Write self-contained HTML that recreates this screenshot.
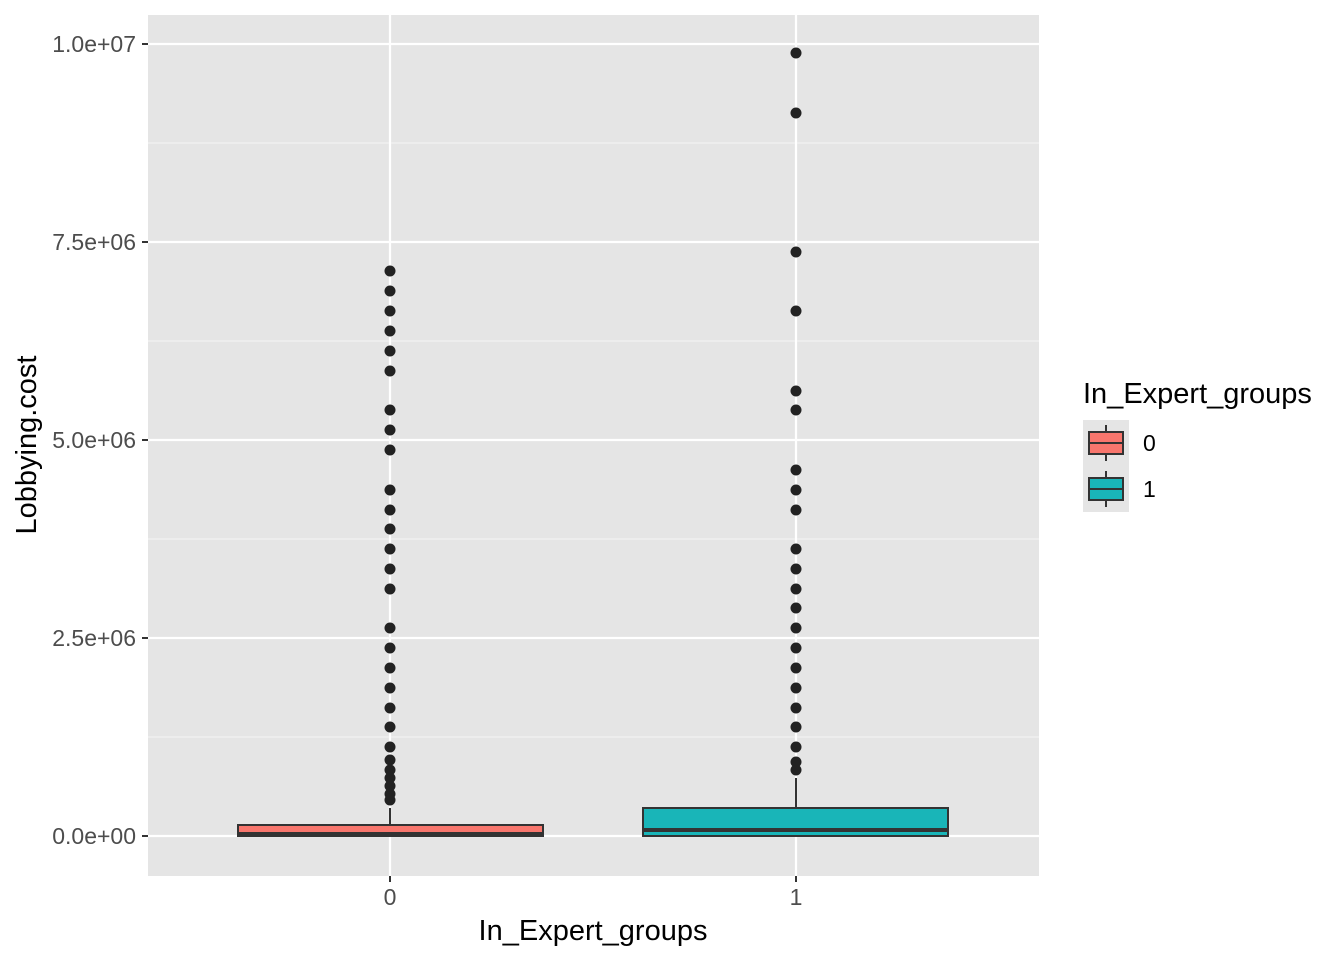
<!DOCTYPE html>
<html><head><style>body{margin:0;background:#fff}svg text{font-family:"Liberation Sans",sans-serif}</style></head><body>
<svg width="1344" height="960" xmlns="http://www.w3.org/2000/svg">
<rect x="148" y="15" width="891" height="861" fill="#e5e5e5"/>
<g stroke="#f2f2f2" stroke-width="1.2">
<line x1="148" x2="1039" y1="737" y2="737"/><line x1="148" x2="1039" y1="539" y2="539"/><line x1="148" x2="1039" y1="341" y2="341"/><line x1="148" x2="1039" y1="143" y2="143"/>
</g>
<g stroke="#fff" stroke-width="2.2">
<line x1="148" x2="1039" y1="836" y2="836"/><line x1="148" x2="1039" y1="638" y2="638"/><line x1="148" x2="1039" y1="440" y2="440"/><line x1="148" x2="1039" y1="242" y2="242"/><line x1="148" x2="1039" y1="44" y2="44"/>
<line x1="390" x2="390" y1="15" y2="876"/><line x1="796" x2="796" y1="15" y2="876"/>
</g>
<g fill="#222">
<circle cx="390" cy="271" r="5.5"/><circle cx="390" cy="291" r="5.5"/><circle cx="390" cy="311" r="5.5"/><circle cx="390" cy="331" r="5.5"/><circle cx="390" cy="351" r="5.5"/><circle cx="390" cy="371" r="5.5"/><circle cx="390" cy="410" r="5.5"/><circle cx="390" cy="430" r="5.5"/><circle cx="390" cy="450" r="5.5"/><circle cx="390" cy="490" r="5.5"/><circle cx="390" cy="510" r="5.5"/><circle cx="390" cy="529" r="5.5"/><circle cx="390" cy="549" r="5.5"/><circle cx="390" cy="569" r="5.5"/><circle cx="390" cy="589" r="5.5"/><circle cx="390" cy="628" r="5.5"/><circle cx="390" cy="648" r="5.5"/><circle cx="390" cy="668" r="5.5"/><circle cx="390" cy="688" r="5.5"/><circle cx="390" cy="708" r="5.5"/><circle cx="390" cy="727" r="5.5"/><circle cx="390" cy="747" r="5.5"/><circle cx="390" cy="760" r="5.5"/><circle cx="390" cy="770" r="5.5"/><circle cx="390" cy="778" r="5.5"/><circle cx="390" cy="786" r="5.5"/><circle cx="390" cy="794" r="5.5"/><circle cx="390" cy="800" r="5.5"/>
<circle cx="796" cy="53" r="5.5"/><circle cx="796" cy="113" r="5.5"/><circle cx="796" cy="252" r="5.5"/><circle cx="796" cy="311" r="5.5"/><circle cx="796" cy="391" r="5.5"/><circle cx="796" cy="410" r="5.5"/><circle cx="796" cy="470" r="5.5"/><circle cx="796" cy="490" r="5.5"/><circle cx="796" cy="510" r="5.5"/><circle cx="796" cy="549" r="5.5"/><circle cx="796" cy="569" r="5.5"/><circle cx="796" cy="589" r="5.5"/><circle cx="796" cy="608" r="5.5"/><circle cx="796" cy="628" r="5.5"/><circle cx="796" cy="648" r="5.5"/><circle cx="796" cy="668" r="5.5"/><circle cx="796" cy="688" r="5.5"/><circle cx="796" cy="708" r="5.5"/><circle cx="796" cy="727" r="5.5"/><circle cx="796" cy="747" r="5.5"/><circle cx="796" cy="762" r="5.5"/><circle cx="796" cy="770" r="5.5"/>
</g>
<g stroke="#333" stroke-width="2">
<line x1="390" x2="390" y1="808" y2="825"/>
<rect x="238" y="825" width="305" height="11" fill="#f8766d"/>
<line x1="238" x2="543" y1="834" y2="834" stroke-width="4"/>
<line x1="796" x2="796" y1="778" y2="808"/>
<rect x="643" y="808" width="305" height="28" fill="#19b5b8"/>
<line x1="643" x2="948" y1="830" y2="830" stroke-width="4"/>
</g>
<g stroke="#333" stroke-width="2"><line x1="142" x2="148" y1="836" y2="836"/><line x1="142" x2="148" y1="638" y2="638"/><line x1="142" x2="148" y1="440" y2="440"/><line x1="142" x2="148" y1="242" y2="242"/><line x1="142" x2="148" y1="44" y2="44"/><line x1="390" x2="390" y1="876" y2="882"/><line x1="796" x2="796" y1="876" y2="882"/></g>
<g fill="#4d4d4d" font-size="23" text-anchor="end">
<text x="136" y="844">0.0e+00</text><text x="136" y="646">2.5e+06</text><text x="136" y="448">5.0e+06</text><text x="136" y="250">7.5e+06</text><text x="136" y="52">1.0e+07</text>
</g>
<g fill="#4d4d4d" font-size="23" text-anchor="middle"><text x="390" y="905">0</text><text x="796" y="905">1</text></g>
<text x="593" y="940" font-size="29" text-anchor="middle">In_Expert_groups</text>
<text transform="translate(36,445) rotate(-90)" font-size="29" text-anchor="middle">Lobbying.cost</text>
<text x="1083" y="403" font-size="29">In_Expert_groups</text>
<rect x="1083" y="420" width="46" height="92" fill="#e5e5e5"/>
<g stroke="#333" stroke-width="2">
<line x1="1106" x2="1106" y1="425" y2="461"/><rect x="1089" y="432" width="34" height="22" fill="#f8766d"/><line x1="1089" x2="1123" y1="443" y2="443"/>
<line x1="1106" x2="1106" y1="471" y2="507"/><rect x="1089" y="478" width="34" height="22" fill="#19b5b8"/><line x1="1089" x2="1123" y1="489" y2="489"/>
</g>
<text x="1143" y="451" font-size="23">0</text><text x="1143" y="497" font-size="23">1</text>
</svg>
</body></html>
